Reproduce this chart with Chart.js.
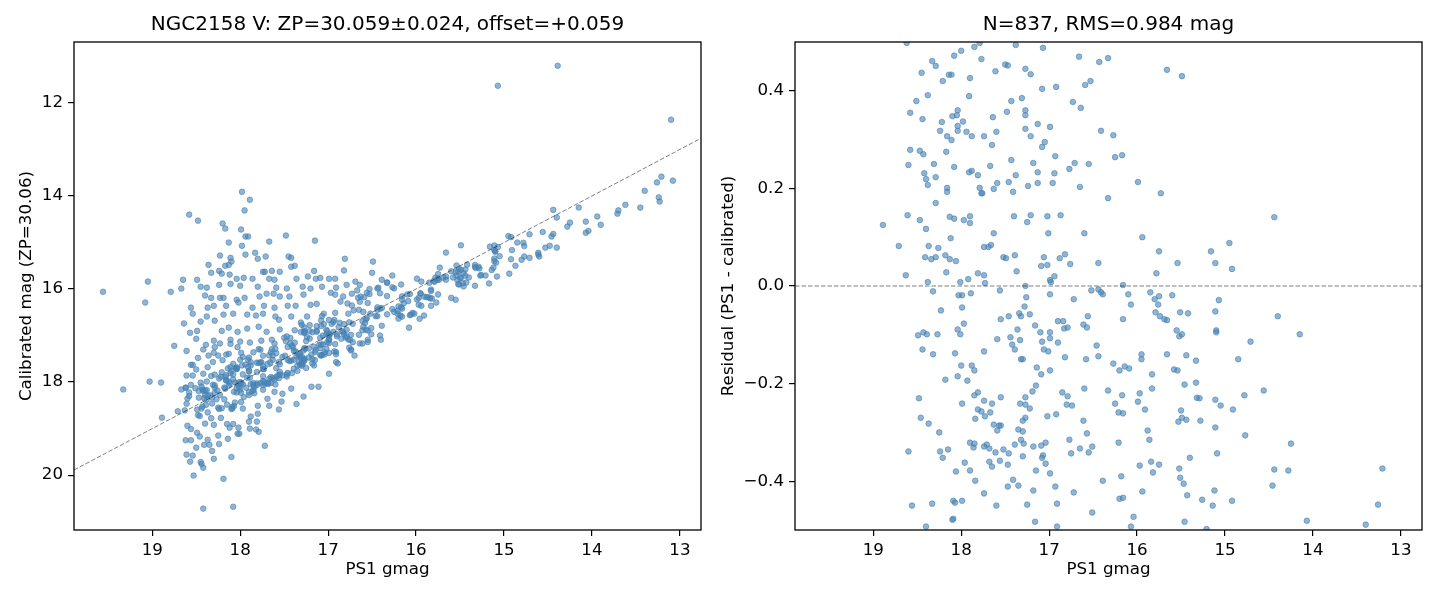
<!DOCTYPE html>
<html lang="en">
<head>
<meta charset="UTF-8">
<title>NGC2158 V calibration</title>
<script src="https://cdn.jsdelivr.net/npm/chart.js@4.4.0/dist/chart.umd.min.js"></script>
<style>
  html, body { margin: 0; padding: 0; background: #fff; }
  #wrap { position: relative; width: 1440px; height: 600px; }
  #leftChart { position: absolute; left: 0; top: 0; }
  #rightChart { position: absolute; left: 705px; top: 0; }
</style>
</head>
<body>
<div id="wrap">
  <canvas id="leftChart" width="705" height="600"></canvas>
  <canvas id="rightChart" width="735" height="600"></canvas>
</div>
<script>
// ---- data ----
const leftTitle = 'NGC2158 V: ZP=30.059\u00b10.024, offset=+0.059';
const rightTitle = 'N=837, RMS=0.984 mag';

const magMin = 12.76, magMax = 19.89;     // PS1 gmag axis limits
const calMin = 10.69, calMax = 21.18;     // calibrated mag axis limits
const residMin = -0.5, residMax = 0.5;

const magTicks = [19, 18, 17, 16, 15, 14, 13];
const calTicks = [12, 14, 16, 18, 20];
const residTicks = [-0.4, -0.2, 0, 0.2, 0.4];

// stars with |residual| < 0.5 : [PS1 gmag, residual (PS1 - calibrated)]
const residStars = [
  [18.62,0.498],[17.85,0.49],[17.79,0.498],[17.38,0.494],[17.07,0.488],[18.08,0.472],[18.0,0.482],[17.77,0.465],[18.33,0.461],[18.29,0.451],
  [18.45,0.437],[18.14,0.433],[18.11,0.433],[18.21,0.42],[17.90,0.426],[17.50,0.454],[17.47,0.452],[17.61,0.44],[17.27,0.445],[17.21,0.434],
  [16.66,0.47],[16.43,0.459],[16.33,0.467],[17.08,0.404],[16.92,0.408],[16.59,0.412],[16.53,0.42],[18.38,0.391],[17.91,0.389],[18.51,0.379],
  [18.58,0.355],[18.44,0.342],[18.10,0.348],[18.04,0.36],[18.05,0.35],[18.22,0.336],[17.98,0.337],[18.04,0.328],[18.24,0.318],[18.04,0.318],
  [17.94,0.316],[18.16,0.307],[18.11,0.299],[17.88,0.307],[17.74,0.307],[17.64,0.346],[17.60,0.316],[17.65,0.289],[17.43,0.379],[17.31,0.385],
  [17.48,0.357],[17.27,0.36],[17.27,0.35],[17.13,0.332],[16.99,0.326],[17.27,0.322],[17.21,0.307],[17.05,0.295],[17.08,0.285],[16.73,0.377],
  [16.64,0.365],[16.41,0.318],[16.27,0.309],[18.58,0.279],[18.47,0.277],[18.43,0.27],[18.17,0.275],[18.60,0.248],[18.31,0.25],[18.42,0.231],
  [18.40,0.219],[18.38,0.207],[18.29,0.223],[18.08,0.244],[17.91,0.233],[17.88,0.236],[17.81,0.227],[17.67,0.246],[18.16,0.201],[18.16,0.193],
  [17.79,0.201],[17.77,0.19],[17.76,0.19],[17.63,0.199],[17.59,0.211],[17.46,0.213],[17.41,0.193],[17.43,0.258],[17.38,0.227],[17.18,0.252],
  [17.24,0.205],[17.13,0.233],[17.13,0.211],[16.94,0.231],[16.96,0.211],[16.93,0.266],[16.77,0.24],[16.71,0.252],[16.55,0.25],[16.65,0.203],
  [16.33,0.18],[16.25,0.264],[18.29,0.17],[18.89,0.125],[18.61,0.145],[18.47,0.135],[18.40,0.117],[18.71,0.082],[18.37,0.082],[18.26,0.078],
  [18.41,0.059],[18.34,0.055],[18.29,0.059],[18.18,0.063],[18.13,0.055],[18.06,0.051],[18.13,0.142],[18.08,0.138],[18.12,0.098],[17.97,0.135],
  [17.90,0.143],[17.90,0.129],[17.63,0.108],[17.74,0.08],[17.69,0.08],[17.66,0.084],[17.52,0.059],[17.49,0.057],[17.39,0.063],[17.40,0.143],
  [17.25,0.131],[17.21,0.145],[17.02,0.143],[16.87,0.145],[17.01,0.108],[16.60,0.108],[17.06,0.059],[17.09,0.041],[17.02,0.043],[16.88,0.057],
  [16.82,0.065],[16.76,0.045],[16.44,0.047],[18.63,0.022],[18.17,0.028],[17.81,0.026],[17.74,0.022],[17.92,0.014],[18.01,0.008],[18.38,0.008],
  [17.73,0.006],[17.37,0.03],[16.94,0.02],[16.99,0.012],[16.98,0.008],[17.27,0.0],
  [15.66,0.443],[15.49,0.43],[16.17,0.268],[15.99,0.213],[15.73,0.19],[14.44,0.141],[15.94,0.10],[15.75,0.071],[14.95,0.088],[15.16,0.071],
  [15.54,0.047],[15.11,0.047],[14.92,0.035],[15.78,0.026],[16.16,0.002],
  [18.32,-0.011],[18.03,-0.019],[17.99,-0.019],[17.89,-0.015],[17.56,-0.009],[17.26,-0.023],[17.28,-0.042],[16.99,-0.017],[16.72,-0.027],[16.52,-0.009],
  [16.44,-0.007],[16.41,-0.013],[16.39,-0.017],[18.23,-0.05],[17.99,-0.044],[17.97,-0.077],[18.49,-0.101],[18.43,-0.095],[18.39,-0.099],[18.27,-0.099],
  [18.04,-0.089],[18.01,-0.099],[18.44,-0.13],[18.32,-0.14],[18.07,-0.138],[17.74,-0.134],[17.59,-0.109],[17.55,-0.068],[17.46,-0.062],[17.34,-0.056],
  [17.32,-0.062],[17.22,-0.058],[17.36,-0.089],[17.44,-0.105],[17.42,-0.12],[17.39,-0.13],[17.33,-0.111],[17.16,-0.081],[17.10,-0.095],[17.08,-0.114],
  [16.99,-0.095],[16.99,-0.107],[17.06,-0.13],[17.01,-0.134],[16.90,-0.116],[16.90,-0.072],[16.84,-0.072],[16.83,-0.087],[16.79,-0.085],[16.61,-0.079],
  [16.57,-0.085],[16.56,-0.062],[16.46,-0.122],[16.44,-0.144],[16.58,-0.15],[16.82,-0.146],[17.32,-0.15],[17.30,-0.15],[17.14,-0.167],[17.09,-0.181],
  [16.99,-0.173],[16.27,-0.159],[18.0,-0.163],[17.88,-0.163],[17.85,-0.173],[18.04,-0.185],[17.93,-0.194],[18.18,-0.192],[18.48,-0.23],[18.46,-0.27],
  [18.37,-0.282],[18.25,-0.30],[17.99,-0.241],[17.85,-0.224],[17.81,-0.218],[17.74,-0.235],[17.65,-0.241],[17.55,-0.228],[17.81,-0.253],[17.77,-0.257],
  [17.67,-0.259],[17.84,-0.272],[17.73,-0.267],[17.63,-0.284],[17.57,-0.286],[17.55,-0.286],[17.59,-0.296],[17.33,-0.241],[17.27,-0.228],[17.27,-0.243],
  [17.22,-0.251],[17.19,-0.216],[17.15,-0.204],[17.30,-0.276],[17.27,-0.27],[17.35,-0.294],[17.30,-0.298],[17.02,-0.267],[16.92,-0.263],[16.85,-0.218],
  [16.79,-0.226],[16.80,-0.243],[16.74,-0.245],[16.60,-0.21],[16.33,-0.214],[16.25,-0.241],[16.61,-0.276],[16.57,-0.302],[16.77,-0.315],[16.65,-0.333],
  [16.55,-0.341],[16.51,-0.329],[16.75,-0.343],[18.60,-0.339],[18.24,-0.339],[18.21,-0.352],[18.15,-0.335],[17.90,-0.321],[17.85,-0.323],[17.86,-0.331],
  [17.74,-0.329],[17.71,-0.325],[17.68,-0.333],[17.61,-0.341],[17.52,-0.335],[17.46,-0.343],[17.39,-0.325],[17.32,-0.315],[17.29,-0.323],[17.30,-0.349],
  [17.18,-0.329],[17.09,-0.327],[17.04,-0.321],[17.07,-0.347],[17.08,-0.352],[17.04,-0.364],[17.96,-0.362],[18.06,-0.38],[17.90,-0.378],[17.84,-0.399],
  [17.68,-0.36],[17.65,-0.37],[17.56,-0.358],[17.47,-0.366],[17.15,-0.378],[16.99,-0.384],[17.41,-0.397],[17.47,-0.411],[17.35,-0.409],[17.18,-0.419],
  [16.93,-0.411],[16.72,-0.423],[16.39,-0.399],[17.74,-0.425],[18.56,-0.45],[18.33,-0.446],[18.09,-0.44],[18.07,-0.444],[17.99,-0.44],[17.60,-0.45],
  [17.25,-0.448],[16.91,-0.446],[16.51,-0.464],[18.10,-0.479],[18.09,-0.477],[18.40,-0.493],[17.16,-0.483],[16.91,-0.493],
  [16.10,-0.017],[16.07,-0.038],[16.16,-0.068],[15.85,-0.013],[15.80,-0.027],[15.75,-0.021],[15.76,-0.038],[15.60,-0.019],[15.79,-0.054],[15.74,-0.062],
  [15.69,-0.068],[15.66,-0.07],[15.51,-0.054],[15.42,-0.056],[15.55,-0.091],[15.52,-0.103],[15.49,-0.099],[15.11,-0.052],[15.07,-0.029],[15.10,-0.091],
  [15.10,-0.095],[14.40,-0.062],[14.15,-0.099],[14.71,-0.114],[14.85,-0.15],[14.78,-0.224],[14.56,-0.214],[14.91,-0.253],[14.77,-0.306],[14.25,-0.323],
  [14.44,-0.376],[14.28,-0.378],[14.46,-0.409],[13.21,-0.374],[13.26,-0.448],[14.07,-0.481],[13.40,-0.489],[16.20,-0.173],[16.14,-0.165],[16.09,-0.169],
  [15.95,-0.14],[15.95,-0.15],[15.66,-0.14],[15.44,-0.142],[15.33,-0.153],[15.83,-0.181],[15.58,-0.171],[15.54,-0.173],[15.46,-0.202],[15.33,-0.198],
  [15.83,-0.21],[16.17,-0.224],[16.21,-0.259],[16.16,-0.261],[15.97,-0.22],[15.99,-0.237],[15.91,-0.253],[15.50,-0.255],[15.49,-0.27],[15.53,-0.278],
  [15.44,-0.274],[15.32,-0.229],[15.29,-0.23],[15.28,-0.276],[15.11,-0.233],[15.05,-0.245],[15.11,-0.29],[15.88,-0.296],[15.86,-0.315],[16.21,-0.321],
  [15.40,-0.352],[15.09,-0.343],[15.84,-0.36],[15.75,-0.366],[15.97,-0.368],[15.82,-0.382],[15.52,-0.374],[15.51,-0.393],[15.47,-0.405],[16.18,-0.39],
  [15.94,-0.421],[15.43,-0.429],[15.26,-0.438],[15.12,-0.419],[15.14,-0.45],[14.92,-0.44],[16.20,-0.436],[16.16,-0.434],[16.04,-0.473],[16.07,-0.493],
  [15.46,-0.483],[15.21,-0.498]
];

// stars off the 1:1 band (residual beyond the right panel) : [PS1 gmag, calibrated mag]
const outlierStars = [
  [19.56,16.06],[19.08,16.29],[19.05,15.84],[18.79,16.06],[18.67,15.99],[18.65,15.80],[18.49,15.80],[18.58,14.40],[18.48,14.53],[17.98,13.91],
  [17.89,14.08],[17.95,14.31],[18.20,14.59],[18.17,14.70],[17.99,14.72],[17.94,14.87],[17.91,14.87],[18.13,15.00],[17.98,15.07],[17.67,14.98],
  [17.48,14.85],[17.15,14.96],[17.83,15.22],[17.80,15.35],[17.71,15.30],[17.94,15.26],[18.23,15.28],[18.11,15.33],[18.10,15.41],[18.13,15.48],
  [18.17,15.50],[18.36,15.48],[18.33,15.65],[18.24,15.61],[18.21,15.67],[18.12,15.69],[18.04,15.78],[17.96,15.76],[17.86,15.78],[17.74,15.63],
  [17.72,15.63],[17.64,15.61],[17.55,15.63],[17.45,15.30],[17.42,15.33],[17.42,15.52],[17.38,15.50],[17.67,15.78],[17.61,15.80],[17.36,15.78],
  [17.16,15.61],[17.23,15.73],[17.14,15.78],[17.09,15.76],[16.99,15.78],[18.24,15.91],[18.45,15.95],[18.38,15.97],[18.11,15.89],[18.00,15.93],
  [17.80,15.95],[17.59,15.97],[17.47,15.99],[17.29,15.95],[17.20,15.99],[17.07,15.95],[16.97,16.08],[18.40,16.14],[18.33,16.19],[18.23,16.19],
  [18.19,16.19],[18.04,16.23],[17.95,16.19],[17.78,16.16],[17.70,16.10],[17.62,16.10],[17.55,16.16],[17.44,16.16],[17.28,16.12],[17.20,16.34],
  [18.56,16.40],[18.54,16.53],[18.37,16.40],[18.30,16.36],[18.16,16.36],[18.02,16.29],[17.86,16.40],[17.73,16.36],[17.61,16.40],[17.46,16.36],
  [17.37,16.36],[17.05,16.53],[18.64,16.74],[18.45,16.70],[18.38,16.59],[18.29,16.68],[18.19,16.55],[18.08,16.53],[17.92,16.55],[17.82,16.57],
  [17.74,16.53],[17.60,16.59],[17.56,16.66],[17.42,16.59],[17.31,16.72],[17.24,16.59],[18.57,16.94],[18.49,16.90],[18.21,16.90],[18.13,16.83],
  [18.03,16.92],[17.92,16.85],[17.79,16.81],[17.70,16.92],[17.55,16.87],[18.75,17.22],[18.50,17.07],[18.39,17.20],[18.30,17.11],[18.23,17.17],
  [18.11,17.09],[18.00,17.13],[17.89,17.15],[17.76,17.11],[17.64,17.09],[18.61,17.33],[18.30,17.37],[18.16,17.41],[17.99,17.37],[17.30,16.77],
  [17.13,16.32],[19.33,18.16],
  [19.03,17.99],[18.90,18.01],[18.67,18.16],[18.62,18.12],[18.56,18.06],[18.61,17.86],[18.54,17.86],[18.56,17.63],[18.54,17.63],[18.48,17.48],
  [18.42,17.30],[18.50,17.73],[18.42,17.82],[18.37,17.68],[18.31,17.57],[18.36,17.43],[18.25,17.43],[18.29,17.25],[18.20,17.53],[18.13,17.39],
  [18.11,17.18],[18.03,17.25],[17.97,17.46],
  [18.62,19.25],[18.56,19.25],[18.50,19.41],[18.46,19.17],[18.49,19.09],[18.41,19.35],[18.37,19.24],[18.35,19.35],[18.32,19.48],[18.30,19.65],
  [18.25,19.15],[18.24,19.33],[18.14,19.22],[18.10,19.61],[18.19,20.08],[18.42,20.72],[18.08,20.68],[18.53,20.01],[18.45,19.72],[18.44,19.76],
  [18.42,19.84],[18.57,19.71],[18.61,19.56],[18.54,19.58],[17.72,19.37],[18.01,19.11],[18.03,19.11],[17.79,19.07],[17.82,19.02],[17.89,19.00],
  [17.81,18.85],[17.80,18.68],[17.90,18.85],[17.88,18.74],[18.02,18.98],[18.08,18.90],[18.12,18.98],[18.15,18.90],[18.22,18.77],[18.30,18.92],
  [17.56,18.59],[17.67,18.51],[17.53,18.42],[17.36,18.47],[17.28,18.31],[17.19,18.10],[17.11,18.10],[17.42,18.14],[17.52,18.25],[17.61,18.21],
  [17.69,18.36],[17.80,18.51],[17.97,18.57],[16.99,17.82],[16.91,17.57],[16.89,17.60],[16.76,17.26],[16.74,17.32],[16.61,17.17],[16.55,17.14],
  [16.81,15.35],[16.82,15.60],[16.49,15.41],[16.50,15.65],[16.27,15.71],[16.39,15.80],[16.33,15.86],[16.92,15.78],[16.91,15.97],[16.79,15.91],
  [16.73,16.10],[16.83,16.16],[16.69,15.84],[16.64,15.91],[16.67,16.03],[16.63,16.16],[16.56,16.08],[16.53,16.00],[16.44,15.99],[16.92,16.12],
  [16.86,16.27],[16.78,16.31],
  [16.41,17.00],[16.40,17.09],[16.55,17.09],[16.74,17.30],[16.64,17.17],[16.70,17.43],[16.08,16.83],[16.02,16.53],[15.91,16.57],[15.96,16.64],
  [16.06,16.55],[15.83,16.36],[15.77,16.29],[15.60,16.19],[15.55,16.23],[15.33,15.93],[15.17,15.88],[14.94,15.67],[14.87,15.50],[14.80,15.37],
  [14.71,15.33],[14.61,15.26],[14.53,15.11],[14.40,15.11],
  [15.07,11.63],[14.39,11.20],[13.10,12.36],[13.08,13.67],[13.24,14.03],[13.23,14.12],[13.45,14.25],[13.62,14.19],[13.70,14.31],[13.71,14.38],
  [13.94,14.44],[13.90,14.62],[14.04,14.75],[14.07,14.79],[14.48,15.07],[14.61,15.22],[14.60,15.30],[14.77,15.30],[15.08,15.73],[15.27,15.71]
];

// ---- build chart data ----
const leftPoints = residStars.map(s => ({ x: s[0], y: s[0] - s[1] }))
  .concat(outlierStars.map(s => ({ x: s[0], y: s[1] })));
const rightPoints = residStars.map(s => ({ x: s[0], y: s[1] }));
const oneToOne = [magMax, magMin].map(v => ({ x: v, y: v }));
const zeroLine = [magMax, magMin].map(v => ({ x: v, y: 0 }));

const FONT = 'DejaVu Sans';
const tickFont = { family: FONT, size: 16.7 };
const dotColor = 'rgba(70,130,180,0.6)';

// black box round the plot area, like matplotlib spines
const framePlugin = {
  id: 'frame',
  afterDraw(chart) {
    const a = chart.chartArea, ctx = chart.ctx;
    ctx.save();
    ctx.strokeStyle = '#000';
    ctx.lineWidth = 1.3;
    ctx.strokeRect(a.left, a.top, a.right - a.left, a.bottom - a.top);
    ctx.restore();
  }
};

function scatterSet(points) {
  return {
    type: 'scatter', data: points, order: 1,
    backgroundColor: dotColor, borderColor: dotColor, borderWidth: 1,
    pointRadius: 2.8, pointHoverRadius: 2.8
  };
}
function dashedSet(points) {
  return {
    type: 'line', data: points, order: 0,
    borderColor: 'rgba(0,0,0,0.5)', borderWidth: 1, borderDash: [4.5, 2],
    pointRadius: 0, fill: false
  };
}
function axisCommon(tickList, fmt, fitFn) {
  return {
    type: 'linear',
    afterBuildTicks: s => { s.ticks = tickList.map(v => ({ value: v })); },
    afterFit: fitFn,
    ticks: { font: tickFont, color: '#000', padding: 5, autoSkip: false, maxRotation: 0, callback: fmt },
    grid: { display: true, drawOnChartArea: false, drawTicks: true, tickLength: 6, tickColor: '#000', lineWidth: 1.2 },
    border: { display: false }
  };
}
function makeChart(id, title, datasets, xCfg, yCfg, rightPad) {
  return new Chart(document.getElementById(id), {
    data: { datasets: datasets },
    options: {
      responsive: false, animation: false, events: [], devicePixelRatio: 1,
      layout: { padding: { left: 0, right: rightPad, top: 0, bottom: 0 } },
      plugins: {
        legend: { display: false },
        tooltip: { enabled: false },
        title: { display: true, text: title, fullSize: false, color: '#000',
                 font: { family: FONT, size: 20, weight: 'normal' }, padding: { top: 13, bottom: 5 } }
      },
      scales: { x: xCfg, y: yCfg }
    },
    plugins: [framePlugin]
  });
}

const magLabel = v => String(v);
const calLabel = v => String(v);
const residLabel = v => (v < 0 ? '\u2212' : '') + Math.abs(v).toFixed(1);

function magAxis() {
  return Object.assign(axisCommon(magTicks, magLabel, s => { s.height = 70; }), {
    position: 'bottom', reverse: true, min: magMin, max: magMax,
    title: { display: true, text: 'PS1 gmag', color: '#000', font: tickFont, padding: { top: 0, bottom: 20 } }
  });
}

makeChart('leftChart', leftTitle,
  [scatterSet(leftPoints), dashedSet(oneToOne)],
  magAxis(),
  Object.assign(axisCommon(calTicks, calLabel, s => { s.width = 74; }), {
    position: 'left', reverse: true, min: calMin, max: calMax,
    title: { display: true, text: 'Calibrated mag (ZP=30.06)', color: '#000', font: tickFont, padding: { top: 17, bottom: 0 } }
  }),
  4);

makeChart('rightChart', rightTitle,
  [scatterSet(rightPoints), dashedSet(zeroLine)],
  magAxis(),
  Object.assign(axisCommon(residTicks, residLabel, s => { s.width = 90; }), {
    position: 'left', min: residMin, max: residMax,
    title: { display: true, text: 'Residual (PS1 - calibrated)', color: '#000', font: tickFont, padding: { top: 14, bottom: 0 } }
  }),
  18);
</script>
</body>
</html>
